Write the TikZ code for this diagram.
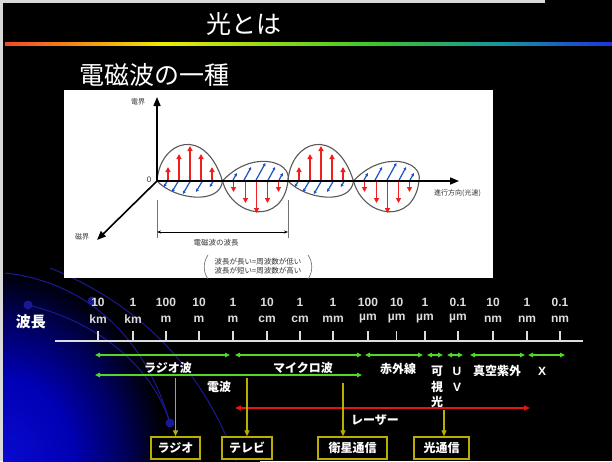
\documentclass[tikz,border=0pt]{standalone}
\usepackage{fontspec}
\setmainfont{Liberation Sans}
\newfontfamily\jpfont{Noto Sans CJK JP}
\usetikzlibrary{arrows.meta}

% spectrum colours for the rule under the title
\definecolor{rbMagenta}{RGB}{210,20,150}
\definecolor{rbRed}{RGB}{235,40,50}
\definecolor{rbOrange}{RGB}{245,140,20}
\definecolor{rbYellow}{RGB}{240,235,0}
\definecolor{rbGreen}{RGB}{60,200,40}
\definecolor{rbTeal}{RGB}{20,150,160}
\definecolor{rbBlue}{RGB}{30,40,230}
\definecolor{rbViolet}{RGB}{120,20,220}
\definecolor{rbPurple}{RGB}{170,20,200}
\pgfdeclarehorizontalshading{rainbowline}{100bp}{color(0bp)=(rbMagenta); color(22bp)=(rbRed); color(31bp)=(rbOrange); color(38bp)=(rbYellow); color(55bp)=(rbGreen); color(66bp)=(rbTeal); color(76bp)=(rbBlue); color(88bp)=(rbViolet); color(100bp)=(rbPurple)}

% blue glow in the lower left corner (path edge sits at 25bp)
\definecolor{glowA}{RGB}{10,10,210}
\definecolor{glowB}{RGB}{0,0,180}
\definecolor{glowC}{RGB}{0,0,90}
\pgfdeclareradialshading{cornerglow}{\pgfpoint{0bp}{0bp}}{color(0bp)=(glowA); color(7bp)=(glowB); color(12bp)=(glowC); color(16bp)=(black); color(50bp)=(black)}

\definecolor{arcBlue}{RGB}{25,25,150}
\definecolor{eRed}{RGB}{240,30,30}
\definecolor{bBlue}{RGB}{30,80,200}
\definecolor{specGreen}{RGB}{80,215,40}
\definecolor{laserRed}{RGB}{230,20,20}
\definecolor{useYellow}{RGB}{185,175,0}
\definecolor{scaleGray}{RGB}{220,220,225}

\tikzset{
  headtext/.style={text=white, font=\jpfont\fontsize{25}{25}\selectfont, inner sep=0pt},
  smalljp/.style={text=black!80, font=\jpfont\fontsize{7}{8}\selectfont, inner sep=0pt},
  axisline/.style={line width=1.6pt, black, -{Triangle[length=9pt,width=7pt]}},
  lobe/.style={draw=black!65, line width=1.1pt},
  efield/.style={eRed, line width=1.3pt, -{Triangle[length=5pt,width=5pt]}},
  bfield/.style={bBlue, line width=1.2pt, -{Triangle[length=3pt,width=3pt]}},
  dimline/.style={black!55, line width=0.6pt},
  scalelabel/.style={text=scaleGray, font=\bfseries\fontsize{12}{12}\selectfont, inner sep=0pt},
  bandlabel/.style={text=white, font=\jpfont\bfseries\fontsize{12}{12}\selectfont, inner sep=0pt},
  bandarrow/.style={specGreen, line width=1.4pt, {Triangle[length=5pt,width=4.5pt]}-{Triangle[length=5pt,width=4.5pt]}},
  laserarrow/.style={laserRed, line width=1.6pt, {Triangle[length=6pt,width=5pt]}-{Triangle[length=6pt,width=5pt]}},
  usearrow/.style={useYellow, line width=1.3pt, -{Triangle[length=6pt,width=5pt]}},
  usebox/.style={draw=useYellow, line width=1.5pt, fill=black, text=white, minimum height=22pt, inner sep=0pt, font=\jpfont\bfseries\fontsize{12}{12}\selectfont},
  arcline/.style={arcBlue, line width=1pt},
}

\begin{document}
\begin{tikzpicture}[x=1pt,y=-1pt]
\useasboundingbox (0,0) rectangle (612,461);
\fill[black] (0,0) rectangle (612,461);
\fill[white!85!black] (0,0) rectangle (3,461);
\fill[white!85!black] (0,0) rectangle (545,3);

% corner glow and decorative orbits
\begin{scope}
  \clip (3,3) rectangle (612,461);
  \shade[shading=cornerglow] (0,461) ellipse [x radius=260pt, y radius=300pt];
  \draw[arcline] (5,273) .. controls (70,280) and (140,320) .. (170,423);
  \draw[arcline] (28,305) .. controls (90,320) and (150,360) .. (170,423);
  \draw[arcline] (50,268) .. controls (130,300) and (200,360) .. (236,461);
  \fill[arcBlue] (28,305) circle [radius=4.5pt];
  \fill[arcBlue] (92,301) circle [radius=4.5pt];
  \fill[arcBlue] (170,423) circle [radius=4.5pt];
\end{scope}

% heading
\node[headtext] (title) at (244,24) {光とは};
\shade[shading=rainbowline] (5,42.5) rectangle (612,45.5);
\node[headtext, anchor=west] (subtitle) at (79,75) {電磁波の一種};

% wave panel
\fill[white] (64,90) rectangle (493,278);

\foreach \xa in {157,288}{
  \begin{scope}[shift={(\xa,181)}]
    \draw[lobe] (0,0) .. controls (3,-41) and (48,-56) .. (65.5,0)
                      .. controls (63,24) and (18,19) .. (0,0) -- cycle;
    \foreach \dx/\h in {11/14,22/27,33/35,44/27,55/14}
      \draw[efield] (\dx,0) -- (\dx,-\h);
    \foreach \dx/\L in {10/6,21/11,33/13,45/11,56/6}
      \draw[bfield] (\dx+1,-1) -- (\dx-0.55*\L,\L);
  \end{scope}
  \begin{scope}[shift={(\xa+65.5,181)}]
    \draw[lobe] (0,0) .. controls (10,37) and (60,45) .. (65.5,0)
                      .. controls (70,-21) and (28,-31) .. (0,0) -- cycle;
    \foreach \dx/\h in {11/11,23/22,34/32,45/22,56/11}
      \draw[efield] (\dx,0) -- (\dx,\h);
    \foreach \dx/\L in {10/8,21/14,33/18,45/14,56/8}
      \draw[bfield] (\dx,0) -- (\dx+0.55*\L,-\L);
  \end{scope}
}

\coordinate (O) at (157,181);
\coordinate (Etip) at (157,97);
\coordinate (Ptip) at (459,181);
\coordinate (Btip) at (97,240);
\draw[axisline] (O) -- (Etip);
\draw[axisline] (O) -- (Ptip);
\draw[axisline] (O) -- (Btip);
\node[smalljp] (elabel) at (138,102) {電界};
\node[smalljp] (blabel) at (82,237) {磁界};
\node[text=black!80, font=\fontsize{8}{8}\selectfont, inner sep=0pt] (zero) at (149,180) {0};
\node[smalljp, anchor=west] (plabel) at (434,193) {進行方向(光速)};

% one wavelength
\coordinate (dimL) at (157,232);
\coordinate (dimR) at (288,232);
\draw[dimline] (157,200) -- (157,238);
\draw[dimline] (288,200) -- (288,238);
\draw[dimline, black, {Stealth[length=4pt]}-{Stealth[length=4pt]}] (dimL) -- (dimR);
\node[smalljp, font=\jpfont\fontsize{7.5}{8}\selectfont] (dimlabel) at (216,243) {電磁波の波長};
\node[smalljp, font=\jpfont\fontsize{7.5}{9.5}\selectfont, align=center] (note) at (258,266)
  {波長が長い=周波数が低い\\波長が短い=周波数が高い};
\draw[black!60, line width=0.6pt] (208,255) .. controls (203,262) and (203,272) .. (208,279);
\draw[black!60, line width=0.6pt] (308,255) .. controls (313,262) and (313,272) .. (308,279);

% wavelength scale
\node[bandlabel, font=\jpfont\bfseries\fontsize{15}{15}\selectfont] (wl) at (31,322) {波長};
\coordinate (scaleL) at (55,341);
\coordinate (scaleR) at (583,341);
\draw[scaleGray, line width=2.5pt] (scaleL) -- (scaleR);
\foreach \n/\xt/\num/\unit in {1/98/10/km, 2/133/1/km, 3/166/100/m, 4/199/10/m,
    5/233/1/m, 6/267/10/cm, 7/300/1/cm, 8/333/1/mm, 9/368/100/µm, 10/396.7/10/µm,
    11/425/1/µm, 12/458/0.1/µm, 13/493/10/nm, 14/527/1/nm, 15/560/0.1/nm}{
  \node[scalelabel] (num\n) at (\xt,302) {\num};
  \node[scalelabel] (unit\n) at (\xt,319) {\unit};
  \draw[scaleGray, line width=1.4pt] (\xt,331) -- (\xt,341);
}

% spectral bands
\coordinate (r1a) at (95,355);   \coordinate (r1b) at (230,355);
\coordinate (mwa) at (235,355);  \coordinate (mwb) at (362,355);
\coordinate (ira) at (365,355);  \coordinate (irb) at (423,355);
\coordinate (visa) at (427,355); \coordinate (visb) at (443,355);
\coordinate (uva) at (447,355);  \coordinate (uvb) at (463,355);
\coordinate (vuva) at (470,355); \coordinate (vuvb) at (525,355);
\coordinate (xa) at (528,355);   \coordinate (xb) at (565,355);
\coordinate (rwa) at (95,375);   \coordinate (rwb) at (362,375);
\draw[bandarrow] (r1a) -- (r1b);
\draw[bandarrow] (mwa) -- (mwb);
\draw[bandarrow] (ira) -- (irb);
\draw[bandarrow] (visa) -- (visb);
\draw[bandarrow] (uva) -- (uvb);
\draw[bandarrow] (vuva) -- (vuvb);
\draw[bandarrow] (xa) -- (xb);
\draw[bandarrow] (rwa) -- (rwb);

\node[bandlabel] (radiowave) at (168,368) {ラジオ波};
\node[bandlabel] (microwave) at (303,368) {マイクロ波};
\node[bandlabel] (infrared) at (398,369) {赤外線};
\node[bandlabel] (vis1) at (437,371) {可};
\node[bandlabel] (vis2) at (437,387) {視};
\node[bandlabel] (vis3) at (437,402) {光};
\node[bandlabel, font=\bfseries\fontsize{12}{12}\selectfont] (uv1) at (457,371) {U};
\node[bandlabel, font=\bfseries\fontsize{12}{12}\selectfont] (uv2) at (457,387) {V};
\node[bandlabel] (vuv) at (497,371) {真空紫外};
\node[bandlabel, font=\bfseries\fontsize{12}{12}\selectfont] (xray) at (542,371) {X};
\node[bandlabel] (denpa) at (219,387) {電波};

% laser range
\coordinate (lza) at (235,408);
\coordinate (lzb) at (530,408);
\draw[laserarrow] (lza) -- (lzb);
\node[bandlabel] (laser) at (375,420) {レーザー};

% applications
\node[usebox, minimum width=49pt] (radio) at (175.5,448) {ラジオ};
\node[usebox, minimum width=50pt] (tv) at (247,448) {テレビ};
\node[usebox, minimum width=69pt] (sat) at (352.5,448) {衛星通信};
\node[usebox, minimum width=55pt] (optcom) at (441.5,448) {光通信};
\coordinate (uRadio) at (175.5,378);
\coordinate (uTv) at (247,378);
\coordinate (uSat) at (343,383);
\coordinate (uOpt) at (444,410);
\draw[usearrow] (uRadio) -- (radio.north);
\draw[usearrow] (uTv) -- (tv.north);
\draw[usearrow] (uSat) -- (uSat |- sat.north);
\draw[usearrow] (uOpt) -- (uOpt |- optcom.north);
\end{tikzpicture}
\end{document}
